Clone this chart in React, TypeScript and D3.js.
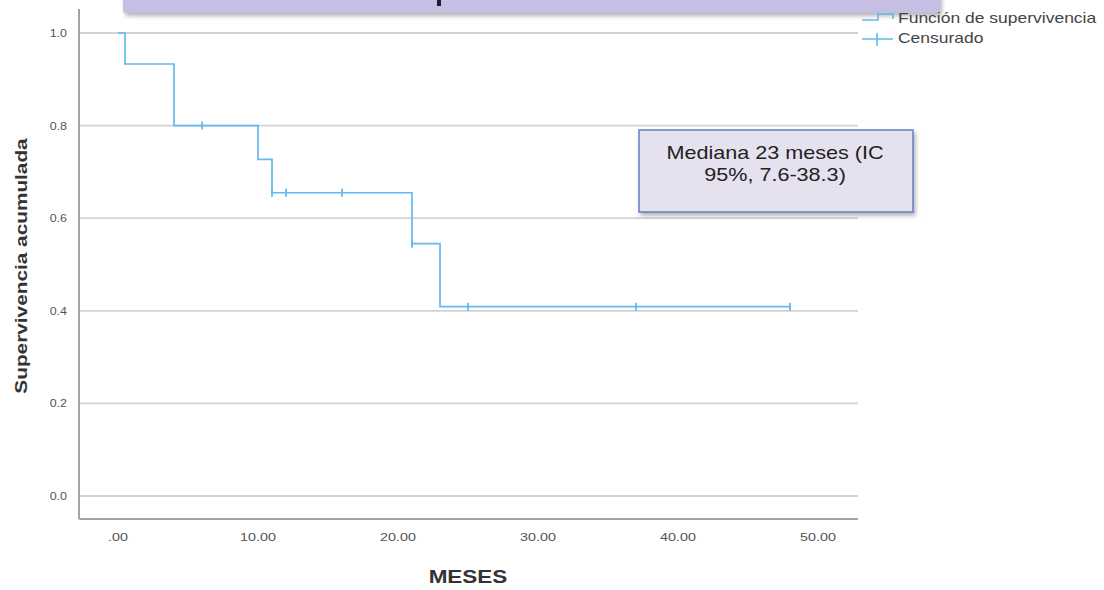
import { useEffect, useRef } from 'react';
import * as d3 from 'd3';

// Kaplan-Meier steps (time in months, cumulative survival after the step)
const stepTimes = [0, 0.5, 4, 10, 11, 21, 23];
const survival = [1.0, 0.933, 0.8, 0.727, 0.655, 0.545, 0.409];
const followUpEnd = 48;
const censorTimes = [6, 11, 12, 16, 21, 25, 37, 48];

const xTicks = [0, 10, 20, 30, 40, 50];
const yTicks = [0, 0.2, 0.4, 0.6, 0.8, 1.0];

const legendLabels = ['Función de supervivencia', 'Censurado'];
const medianNote = ['Mediana 23 meses (IC', '95%, 7.6-38.3)'];

const font = '"Liberation Sans", Arial, sans-serif';
const blue = '#62b9f3';

export default function App() {
  const svgRef = useRef<SVGSVGElement>(null);

  useEffect(() => {
    if (!svgRef.current) return;
    const width = 1104;
    const height = 590;
    const frame = { left: 79, right: 858, top: 9, bottom: 519 };

    const svg = d3.select(svgRef.current);
    svg.selectAll('*').remove();
    svg.attr('width', width).attr('height', height);

    const defs = svg.append('defs');
    const f = defs.append('filter').attr('id', 'shadow')
      .attr('x', '-10%').attr('y', '-30%').attr('width', '130%').attr('height', '170%');
    f.append('feDropShadow').attr('dx', 2).attr('dy', 3).attr('stdDeviation', 2)
      .attr('flood-color', '#777').attr('flood-opacity', 0.55);

    const x = d3.scaleLinear().domain([0, 50]).range([118, 818]);
    const y = d3.scaleLinear().domain([0, 1]).range([496, 33]);

    // stretched text helper (source output has wide glyphs)
    const txt = (g: d3.Selection<any, unknown, null, undefined>, s: string, px: number, py: number,
      opts: { size: number; sx: number; anchor?: string; weight?: string; fill?: string; rot?: number }) =>
      g.append('text')
        .attr('transform', `translate(${px},${py}) rotate(${opts.rot ?? 0}) scale(${opts.sx},1)`)
        .attr('text-anchor', opts.anchor ?? 'start')
        .attr('font-family', font)
        .attr('font-size', opts.size)
        .attr('font-weight', opts.weight ?? 'normal')
        .attr('fill', opts.fill ?? '#444')
        .text(s);

    // cut-off title banner (only a glyph fragment of the title is visible)
    svg.append('rect')
      .attr('x', 123).attr('y', -12).attr('width', 817).attr('height', 25)
      .attr('rx', 3)
      .attr('fill', '#c6bfe3')
      .attr('filter', 'url(#shadow)');
    svg.append('rect')
      .attr('x', 437).attr('y', 0).attr('width', 4).attr('height', 6)
      .attr('fill', '#1c1c3c');

    // gridlines
    svg.append('g')
      .selectAll('line')
      .data(yTicks)
      .join('line')
      .attr('x1', frame.left + 1).attr('x2', frame.right)
      .attr('y1', d => y(d)).attr('y2', d => y(d))
      .attr('stroke', '#d2d2d2').attr('stroke-width', 1.8);

    // axes frame lines
    svg.append('line')
      .attr('x1', frame.left).attr('x2', frame.left)
      .attr('y1', frame.top).attr('y2', frame.bottom)
      .attr('stroke', '#a3a3a3').attr('stroke-width', 2);
    svg.append('line')
      .attr('x1', frame.left).attr('x2', frame.right)
      .attr('y1', frame.bottom).attr('y2', frame.bottom)
      .attr('stroke', '#a3a3a3').attr('stroke-width', 2);

    // tick labels
    const yFmt = d3.format('.1f');
    const xFmt = (v: number) => d3.format('.2f')(v).replace(/^0/, '');
    const labels = svg.append('g');
    yTicks.forEach(v => txt(labels, yFmt(v), 67, y(v) + 4, { size: 10, sx: 1.25, anchor: 'end', fill: '#555' }));
    xTicks.forEach(v => txt(labels, xFmt(v), x(v), 541, { size: 11, sx: 1.3, anchor: 'middle', fill: '#555' }));

    // axis titles
    txt(svg as any, 'MESES', 468, 583, { size: 18, sx: 1.25, anchor: 'middle', weight: 'bold', fill: '#333' });
    txt(svg as any, 'Supervivencia acumulada', 27, 266, { size: 16, sx: 1.3, anchor: 'middle', weight: 'bold', fill: '#333', rot: -90 });

    // survival curve
    const pts: [number, number][] = stepTimes.map((t, i) => [t, survival[i]]);
    pts.push([followUpEnd, survival[survival.length - 1]]);
    const line = d3.line<[number, number]>()
      .x(d => x(d[0]))
      .y(d => y(d[1]))
      .curve(d3.curveStepAfter);
    svg.append('path')
      .attr('d', line(pts))
      .attr('fill', 'none')
      .attr('stroke', blue)
      .attr('stroke-width', 1.7);

    // censored marks
    const survAt = (t: number) => survival[d3.bisectRight(stepTimes, t) - 1];
    svg.append('g')
      .selectAll('line')
      .data(censorTimes)
      .join('line')
      .attr('x1', d => x(d)).attr('x2', d => x(d))
      .attr('y1', d => y(survAt(d)) - 4).attr('y2', d => y(survAt(d)) + 4)
      .attr('stroke', blue).attr('stroke-width', 1.8);

    // legend
    const lg = svg.append('g');
    lg.append('path')
      .attr('d', 'M862,20 H878 V14 H893 V19')
      .attr('fill', 'none').attr('stroke', blue).attr('stroke-width', 1.6);
    lg.append('path')
      .attr('d', 'M862,39 H893 M877,33 V46')
      .attr('fill', 'none').attr('stroke', blue).attr('stroke-width', 1.6);
    legendLabels.forEach((s, i) => txt(lg, s, 898, 23 + i * 20, { size: 14, sx: 1.25, fill: '#444' }));

    // median annotation box
    const note = svg.append('g');
    note.append('rect')
      .attr('x', 639).attr('y', 130).attr('width', 274).attr('height', 82)
      .attr('fill', '#e6e1ee')
      .attr('stroke', '#5d82c2').attr('stroke-width', 1.5)
      .attr('filter', 'url(#shadow)');
    medianNote.forEach((s, i) => txt(note, s, 775, 159 + i * 22, { size: 18, sx: 1.2, anchor: 'middle', fill: '#222' }));
  }, []);

  return (
    <div style={{ position: 'absolute', left: 0, top: 0, background: '#fff' }}>
      <svg ref={svgRef} style={{ display: 'block' }} />
    </div>
  );
}
